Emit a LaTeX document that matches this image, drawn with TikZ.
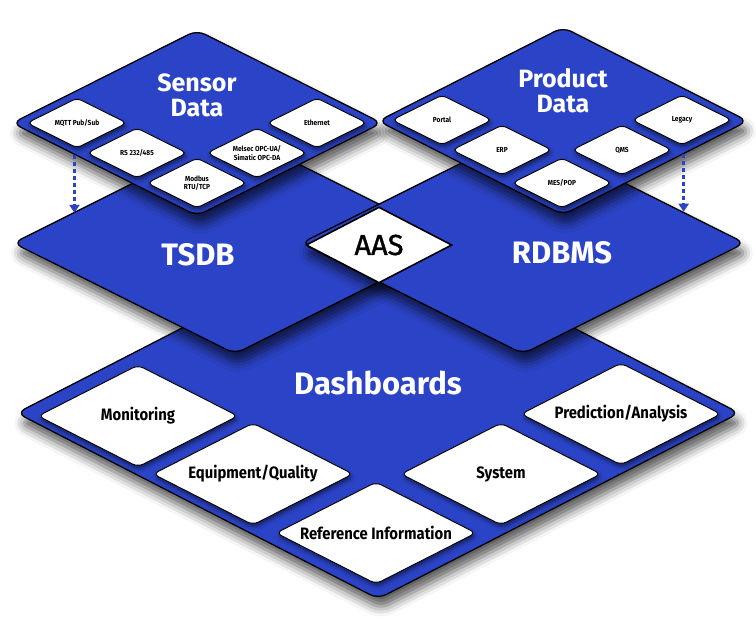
\documentclass[tikz,border=0pt]{standalone}
\usepackage{fontspec}
\setmainfont{Fira Sans}
\newfontfamily\narrowfont[FakeStretch=0.9]{Fira Sans}
\newfontfamily\mediumfont[FakeBold=1.2]{Fira Sans}
\usetikzlibrary{shapes.geometric,shadows.blur,arrows.meta,calc}
\definecolor{layerblue}{HTML}{2B44C7}

\tikzset{
	layer/.style={diamond,draw=black,line width=1.3pt,fill=layerblue,inner sep=0pt,rounded corners=9pt,
		blur shadow={shadow xshift=3pt,shadow yshift=-10pt,shadow blur radius=10pt,shadow opacity=65}},
	tile/.style={diamond,aspect=2,draw=black,line width=0.9pt,fill=white,inner sep=0pt,rounded corners=5pt,
		align=center,minimum width=100pt,minimum height=50pt,
		font=\narrowfont\bfseries\fontsize{7.3}{8.3}\selectfont,
		blur shadow={shadow xshift=1pt,shadow yshift=-3pt,shadow blur radius=4pt,shadow opacity=55}},
	bigtile/.style={tile,rounded corners=6pt,minimum width=200pt,minimum height=102pt,
		font=\narrowfont\bfseries\fontsize{16.5}{18}\selectfont},
	title/.style={text=white,align=center,font=\bfseries\fontsize{25}{25}\selectfont},
	bigtitle/.style={text=white,font=\bfseries\fontsize{31}{31}\selectfont},
	feed/.style={draw=layerblue,line width=2.5pt,dash pattern=on 4pt off 3pt,
		-{Triangle[width=10pt,length=8pt]}}
}

\begin{document}
\begin{tikzpicture}[x=1pt,y=-1pt]
	\useasboundingbox (0,0) rectangle (756,619);
	
	% bottom layer
	\node[layer,minimum width=723pt,minimum height=372pt] (dash) at (378,413) {};
	\node[bigtitle] (dashlbl) at ($(dash)+(0,-30)$) {Dashboards};
	\node[bigtile] (monitor) at (138,416) {Monitoring};
	\node[bigtile] (equip) at (253,474) {Equipment/Quality};
	\node[bigtile] (refinfo) at (376,533) {Reference Information};
	\node[bigtile] (system) at (501,474) {System};
	\node[bigtile] (predict) at (621,414) {Prediction/Analysis};
	
	% middle layer
	\node[layer,minimum width=444pt,minimum height=222pt] (tsdb) at (235,243) {};
	\node[layer,minimum width=444pt,minimum height=222pt] (rdbms) at (523,243) {};
	\node[bigtitle] (tsdblbl) at ($(tsdb)+(-37,12)$) {TSDB};
	\node[bigtitle] (rdbmslbl) at ($(rdbms)+(39,10)$) {RDBMS};
	\node[diamond,draw=black,line width=1.6pt,fill=white,inner sep=0pt,minimum width=146pt,minimum height=76pt,
		font=\mediumfont\fontsize{29}{29}\selectfont] (aas) at (379,245) {AAS};
	
	% top layer
	\node[layer,minimum width=370pt,minimum height=186pt] (sensor) at (197,123) {};
	\node[title] (sensorlbl) at ($(sensor)+(0,-28)$) {Sensor\\Data};
	\node[tile] (mqtt) at (77,123) {MQTT Pub/Sub};
	\node[tile] (rs) at (137,153) {RS 232/485};
	\node[tile] (modbus) at (197,183) {Modbus\\RTU/TCP};
	\node[tile] (melsec) at (257,153) {Melsec OPC-UA/\\Simatic OPC-DA};
	\node[tile] (ether) at (317,123) {Ethernet};
	
	\node[layer,minimum width=370pt,minimum height=188pt] (product) at (563,121) {};
	\node[title] (productlbl) at ($(product)+(0,-30)$) {Product\\Data};
	\node[tile] (portal) at (442,120) {Portal};
	\node[tile] (erp) at (502,150) {ERP};
	\node[tile] (mes) at (562,183) {MES/POP};
	\node[tile] (qms) at (622,150) {QMS};
	\node[tile] (legacy) at (682,120) {Legacy};
	
	% feeds down to the databases
	\coordinate (sfeed) at ($(sensor.west)!0.34!(sensor.south)$);
	\coordinate (sfeedend) at ($(tsdb.west)!0.27!(tsdb.north)$);
	\draw[feed] (sfeed) -- (sfeed |- sfeedend);
	\coordinate (pfeed) at ($(product.east)!0.35!(product.south)$);
	\coordinate (pfeedend) at ($(rdbms.east)!0.28!(rdbms.north)$);
	\draw[feed] (pfeed) -- (pfeed |- pfeedend);
	
\end{tikzpicture}
\end{document}
